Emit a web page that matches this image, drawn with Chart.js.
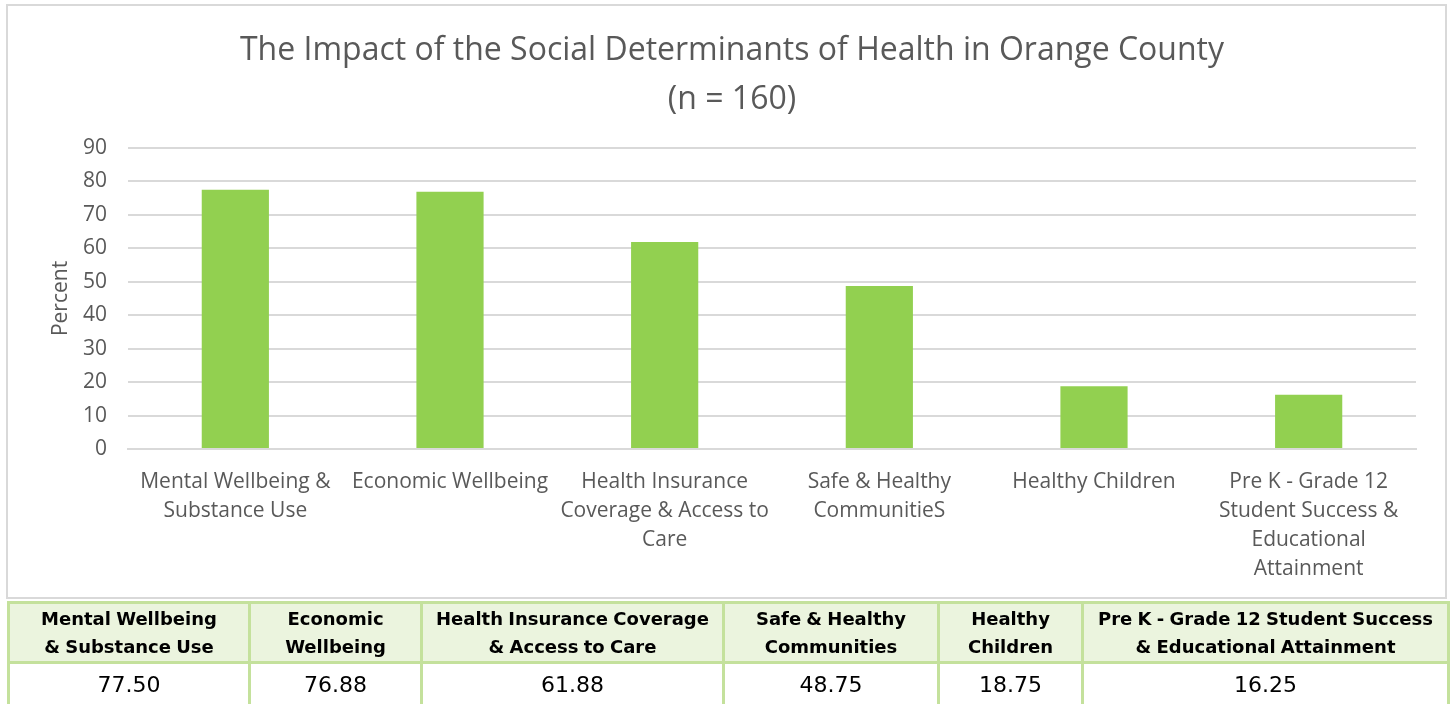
<!DOCTYPE html>
<html>
<head>
<meta charset="utf-8">
<script src="https://cdn.jsdelivr.net/npm/chart.js@4/dist/chart.umd.min.js"></script>
<style>
  html, body { margin: 0; padding: 0; background: #ffffff; }
  #page { position: relative; width: 1450px; height: 704px; overflow: hidden; }
  #chartBox { position: absolute; left: 0; top: 0; width: 1450px; height: 598px; }
  #frame { position: absolute; left: 6px; top: 4px; width: 1437px; height: 591px;
           border: 2px solid #d9d9d9; pointer-events: none; }
  #valueTable { position: absolute; left: 7px; top: 601px; width: 1440px;
                border-collapse: collapse; table-layout: fixed;
                font-family: "DejaVu Sans", sans-serif; color: #000; }
  #valueTable th, #valueTable td { border: 3px solid #c4e19c; text-align: center; padding: 0; }
  #valueTable th { background: #ebf4de; font-weight: bold; font-size: 18px; line-height: 28px;
                   height: 57px; word-spacing: -1px; }
  #valueTable td { font-size: 22px; height: 42px; vertical-align: top; padding-top: 8px; }
</style>
</head>
<body>
<div id="page">
  <div id="chartBox"><canvas id="chart"></canvas></div>
  <div id="frame"></div>
  <table id="valueTable">
    <colgroup id="cols"></colgroup>
    <thead><tr id="headRow"></tr></thead>
    <tbody><tr id="valueRow"></tr></tbody>
  </table>
</div>
<script>
// Determinant categories as wrapped on the x axis
const axisLabels = [
  ["Mental Wellbeing &", "Substance Use"],
  ["Economic Wellbeing"],
  ["Health Insurance", "Coverage & Access to", "Care"],
  ["Safe & Healthy", "CommunitieS"],
  ["Healthy Children"],
  ["Pre K - Grade 12", "Student Success &", "Educational", "Attainment"]
];

// Same categories as headed in the summary table
const tableHeaders = [
  ["Mental Wellbeing", "& Substance Use"],
  ["Economic", "Wellbeing"],
  ["Health Insurance Coverage", "& Access to Care"],
  ["Safe & Healthy", "Communities"],
  ["Healthy", "Children"],
  ["Pre K - Grade 12 Student Success", "& Educational Attainment"]
];

// Percent of respondents (n = 160)
const percentValues = [77.50, 76.88, 61.88, 48.75, 18.75, 16.25];

// Y axis ticks
const yMin = 0;
const yMax = 90;
const yStep = 10;

const tableColumnWidths = [241, 172, 302, 215, 144, 366];

// Summary table
const cols = document.getElementById('cols');
const headRow = document.getElementById('headRow');
const valueRow = document.getElementById('valueRow');
tableHeaders.forEach((lines, i) => {
  const col = document.createElement('col');
  col.style.width = tableColumnWidths[i] + 'px';
  cols.appendChild(col);
  const th = document.createElement('th');
  th.innerHTML = lines.map(s => s.replace(/&/g, '&amp;')).join('<br>');
  headRow.appendChild(th);
  const td = document.createElement('td');
  td.textContent = percentValues[i].toFixed(2);
  valueRow.appendChild(td);
});

const textGray = '#595959';
const gridGray = '#d9d9d9';
const labelFont = '"Open Sans", sans-serif';

new Chart(document.getElementById('chart'), {
  type: 'bar',
  data: {
    labels: axisLabels,
    datasets: [{
      data: percentValues,
      backgroundColor: '#92d050',
      borderWidth: 0,
      barPercentage: 0.313,
      categoryPercentage: 1.0
    }]
  },
  options: {
    responsive: true,
    maintainAspectRatio: false,
    animation: false,
    layout: { padding: { left: 48, right: 34, top: 0, bottom: 0 } },
    plugins: {
      legend: { display: false },
      tooltip: { enabled: false },
      title: {
        display: true,
        text: ['The Impact of the Social Determinants of Health in Orange County', '(n = 160)'],
        color: textGray,
        font: { family: labelFont, size: 32, weight: 'normal', lineHeight: 1.53 },
        padding: { top: 26, bottom: 24 }
      }
    },
    scales: {
      x: {
        grid: { display: false, drawTicks: false },
        border: { color: gridGray, width: 2 },
        ticks: {
          color: textGray,
          font: { family: labelFont, size: 21, lineHeight: 1.38 },
          padding: 19,
          maxRotation: 0,
          autoSkip: false
        },
        afterFit: (scale) => { scale.height = 149; }
      },
      y: {
        min: yMin,
        max: yMax,
        grid: { color: gridGray, lineWidth: 2, drawTicks: false },
        border: { display: false },
        ticks: {
          stepSize: yStep,
          color: textGray,
          font: { family: labelFont, size: 21 },
          padding: 21
        },
        title: {
          display: true,
          text: 'Percent',
          color: textGray,
          font: { family: labelFont, size: 21, lineHeight: 1.2 },
          padding: 0
        },
        afterFit: (scale) => { scale.width = 80; }
      }
    }
  }
});
</script>
</body>
</html>
